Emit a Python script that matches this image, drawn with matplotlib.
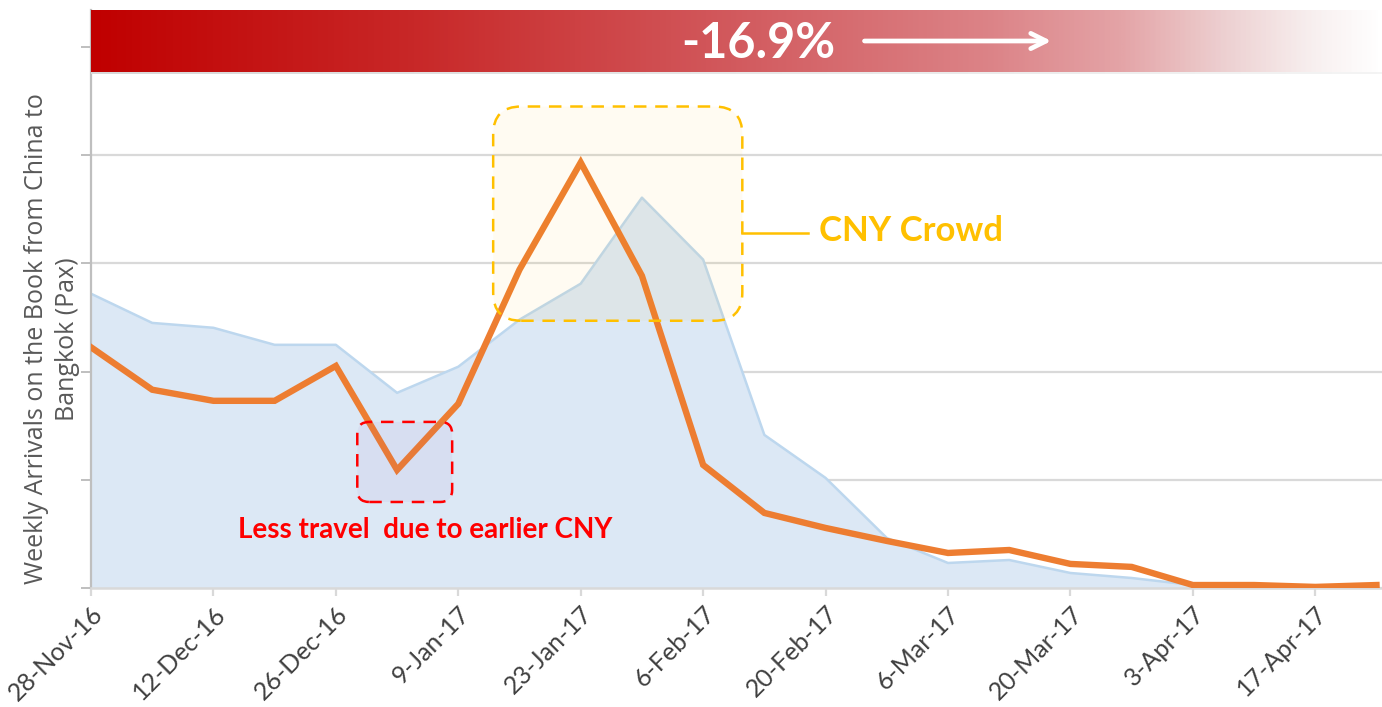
import matplotlib
matplotlib.use("Agg")
import matplotlib.pyplot as plt
import numpy as np
from matplotlib.colors import LinearSegmentedColormap
from matplotlib.patches import FancyBboxPatch

# ---------------- data ----------------
weeks = ["28-Nov-16", "5-Dec-16", "12-Dec-16", "19-Dec-16", "26-Dec-16", "2-Jan-17",
         "9-Jan-17", "16-Jan-17", "23-Jan-17", "30-Jan-17", "6-Feb-17", "13-Feb-17",
         "20-Feb-17", "27-Feb-17", "6-Mar-17", "13-Mar-17", "20-Mar-17", "27-Mar-17",
         "3-Apr-17", "10-Apr-17", "17-Apr-17", "24-Apr-17"]
this_year = [8900, 7330, 6920, 6920, 8210, 4365, 6810, 11770, 15730, 11540, 4550, 2775,
             2220, 1740, 1295, 1405, 890, 780, 110, 110, 40, 110]
last_year = [10880, 9800, 9620, 8990, 8990, 7215, 8180, 9920, 11250, 14430, 12140, 5660,
             4070, 1850, 925, 1035, 555, 370, 110]
y_gridlines = [0, 4000, 8000, 12000, 16000, 20000]
change_label = "-16.9%"

# ---------------- figure ----------------
W, H = 1382, 707
fig = plt.figure(figsize=(W / 100, H / 100), dpi=100)
ax = fig.add_axes([91 / W, 119 / H, 1291 / W, 578 / H])

x = np.arange(len(weeks))
xl = np.arange(len(last_year))

ax.fill_between(xl, last_year, 0, color="#dce8f5", zorder=1, linewidth=0)
ax.plot(xl, last_year, color="#bdd7ee", lw=1.8, zorder=2)
ax.plot(x, this_year, color="#ed7d31", lw=4.6, zorder=4, solid_joinstyle="miter")

ax.set_xlim(0, 21.09)
ax.set_ylim(0, 21368)
ax.set_yticks(y_gridlines)
ax.set_yticklabels([])
ax.grid(axis="y", color="#d9d9d9", lw=1.6, zorder=0)
ax.set_axisbelow(True)
ax.tick_params(axis="y", length=7, width=1.4, color="#bfbfbf", direction="out")

ax.set_xticks(x[::2])
ax.set_xticklabels(weeks[::2], rotation=45, ha="right", rotation_mode="anchor",
                   family="Lato", fontsize=18, color="#404040")
ax.tick_params(axis="x", length=6, width=1.6, color="#d9d9d9", direction="out", pad=4)

for s in ["top", "right"]:
    ax.spines[s].set_visible(False)
ax.spines["left"].set_color("#bfbfbf")
ax.spines["left"].set_linewidth(1.6)
ax.spines["bottom"].set_color("#d9d9d9")
ax.spines["bottom"].set_linewidth(1.8)

fig.text(52 / W, 1 - 339 / H, "Weekly Arrivals on the Book from China to\nBangkok (Pax)",
         rotation=90, ha="center", va="center", multialignment="center",
         family="Open Sans", fontsize=18, color="#595959", linespacing=1.3)

# ---------------- annotation boxes (pixel-accurate rounding) ----------------
fig.canvas.draw()
inv = fig.dpi_scale_trans.inverted()


def rounded_box(x0, x1, y0, y1, radius_px, **kw):
    p0 = inv.transform(ax.transData.transform((x0, y0)))
    p1 = inv.transform(ax.transData.transform((x1, y1)))
    r = radius_px / 100
    patch = FancyBboxPatch((p0[0] + r, p0[1] + r), (p1[0] - p0[0]) - 2 * r,
                           (p1[1] - p0[1]) - 2 * r,
                           boxstyle=f"round,pad={r},rounding_size={r}",
                           transform=fig.dpi_scale_trans, **kw)
    fig.add_artist(patch)
    return p0, p1


# CNY box
rounded_box(6.57, 10.64, 9880, 17800, 28,
            facecolor=(1.0, 0.75, 0.0, 0.05), edgecolor="#ffc000",
            lw=1.8, linestyle=(0, (5, 3.5)), zorder=6)
# red box
rounded_box(4.35, 5.9, 3180, 6140, 12,
            facecolor=(0.55, 0.3, 0.7, 0.06), edgecolor="#ff0000",
            lw=1.8, linestyle=(0, (5, 3.5)), zorder=6)

# leader line + CNY Crowd text
ax.plot([10.64, 11.72], [13130, 13130], color="#ffc000", lw=1.8, zorder=6)
ax.text(11.9, 13200, "CNY Crowd", color="#ffc000", fontsize=25, fontweight="bold",
        family="Lato", ha="left", va="center", zorder=7)

ax.text(5.46, 2144, "Less travel  due to earlier CNY", color="#ff0000", fontsize=20,
        fontweight="bold", family="Lato", ha="center", va="center", zorder=7)

# ---------------- banner ----------------
# soft shadow under banner
sax = fig.add_axes([91 / W, 1 - 74 / H, 1291 / W, 64 / H])
sax.imshow(np.linspace(0, 1, 256).reshape(1, -1), aspect="auto",
           cmap=LinearSegmentedColormap.from_list("sh", ["#d8d8d8", "#f4f4f4"]),
           extent=[0, 1, 0, 1])
sax.axis("off")

bax = fig.add_axes([91 / W, 1 - 72 / H, 1291 / W, 62 / H])
cmap = LinearSegmentedColormap.from_list(
    "ban", [(0.0, "#c00000"), (0.25, "#c82828"), (0.5, "#d25a5e"), (0.7, "#dc8488"),
            (0.8, "#e4a4a7"), (0.88, "#edd0d1"), (0.95, "#f8f0f0"), (1.0, "#ffffff")])
grad = np.linspace(0, 1, 512).reshape(1, -1)
bax.imshow(grad, aspect="auto", cmap=cmap, extent=[0, 1, 0, 1])
bax.set_xlim(0, 1)
bax.set_ylim(0, 1)
bax.axis("off")
bax.text(0.517, 0.46, change_label, color="white", fontsize=35, fontweight="bold",
         family="Lato", ha="center", va="center")
bax.annotate("", xy=(0.746, 0.5), xytext=(0.597, 0.5),
             arrowprops=dict(arrowstyle="->,head_length=1.1,head_width=0.55",
                             color="white", lw=3.4))

fig.savefig("out.png", dpi=100)
